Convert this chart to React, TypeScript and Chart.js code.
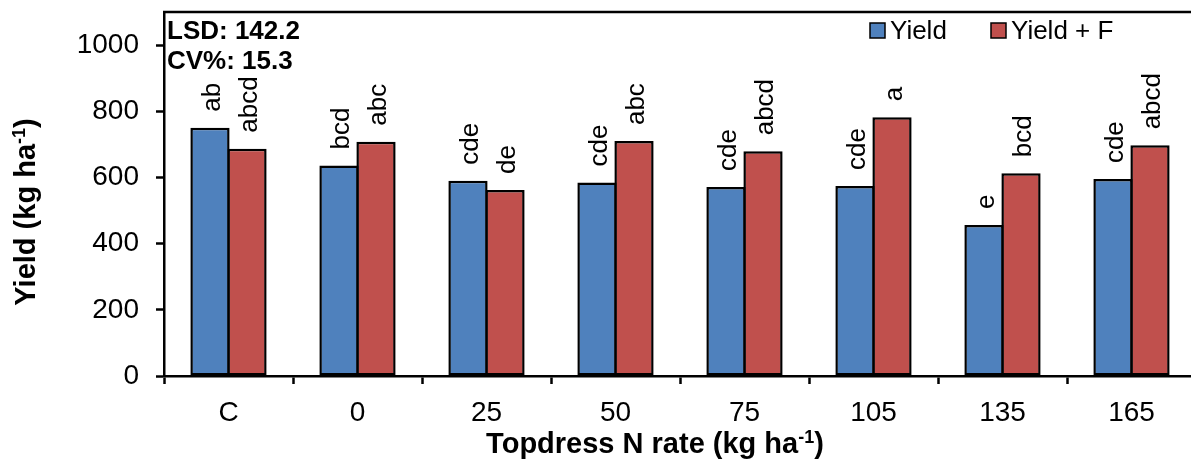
import React, { useEffect, useRef } from "react";
import { Chart, registerables } from "chart.js";

Chart.register(...registerables);

const categories = ["C", "0", "25", "50", "75", "105", "135", "165"];
const yieldValues = [750, 636, 590, 585, 571, 574, 456, 595];
const yieldFValues = [687, 708, 562, 710, 679, 782, 613, 697];
const yieldLetters = ["ab", "bcd", "cde", "cde", "cde", "cde", "e", "cde"];
const yieldFLetters = ["abcd", "abc", "de", "abc", "abcd", "a", "bcd", "abcd"];
const seriesNames = ["Yield", "Yield + F"];
const seriesColors = ["#4F81BD", "#C0504D"];
const statLines = ["LSD: 142.2", "CV%: 15.3"];
const yMax = 1100;
const yStep = 200;
const yTickTop = 1000;

const FONT = '"Liberation Sans", Arial, sans-serif';

function drawSuper(
  ctx: CanvasRenderingContext2D,
  main: string,
  sup: string,
  tail: string,
  cx: number,
  y: number,
  size: number
) {
  ctx.font = `bold ${size}px ${FONT}`;
  const w1 = ctx.measureText(main).width;
  const w3 = ctx.measureText(tail).width;
  const supSize = Math.round(size * 0.62);
  ctx.font = `bold ${supSize}px ${FONT}`;
  const w2 = ctx.measureText(sup).width;
  const total = w1 + w2 + w3;
  let x = cx - total / 2;
  ctx.textAlign = "left";
  ctx.textBaseline = "alphabetic";
  ctx.font = `bold ${size}px ${FONT}`;
  ctx.fillText(main, x, y);
  x += w1;
  ctx.font = `bold ${supSize}px ${FONT}`;
  ctx.fillText(sup, x, y - size * 0.36);
  x += w2;
  ctx.font = `bold ${size}px ${FONT}`;
  ctx.fillText(tail, x, y);
}

const decorPlugin = {
  id: "decor",
  afterDraw(chart: any) {
    const ctx: CanvasRenderingContext2D = chart.ctx;
    const area = chart.chartArea;
    ctx.save();
    ctx.fillStyle = "#000";
    ctx.strokeStyle = "#000";

    // top border of plot area
    ctx.lineWidth = 2.5;
    ctx.beginPath();
    ctx.moveTo(area.left - 1, area.top);
    ctx.lineTo(area.right + 10, area.top);
    ctx.stroke();

    // letters above bars
    const letterSets = [yieldLetters, yieldFLetters];
    ctx.font = `26px ${FONT}`;
    ctx.textAlign = "left";
    ctx.textBaseline = "alphabetic";
    for (let d = 0; d < 2; d++) {
      const meta = chart.getDatasetMeta(d);
      meta.data.forEach((el: any, i: number) => {
        ctx.save();
        ctx.translate(el.x + 10, el.y - 16);
        ctx.rotate(-Math.PI / 2);
        ctx.fillText(letterSets[d][i], 0, 0);
        ctx.restore();
      });
    }

    // stats text
    ctx.font = `bold 26px ${FONT}`;
    ctx.fillText(statLines[0], 167, 39);
    ctx.fillText(statLines[1], 167, 69);

    // legend
    const legendX = [870, 991];
    ctx.font = `26px ${FONT}`;
    for (let d = 0; d < 2; d++) {
      ctx.fillStyle = seriesColors[d];
      ctx.fillRect(legendX[d], 23, 15, 15);
      ctx.lineWidth = 1.5;
      ctx.strokeStyle = "#000";
      ctx.strokeRect(legendX[d], 23, 15, 15);
      ctx.fillStyle = "#000";
      ctx.fillText(seriesNames[d], legendX[d] + 20, 39);
    }

    // axis titles
    drawSuper(ctx, "Topdress N rate (kg ha", "-1", ")", 655, 453, 29);
    ctx.save();
    ctx.translate(35, 212);
    ctx.rotate(-Math.PI / 2);
    drawSuper(ctx, "Yield (kg ha", "-1", ")", 0, 0, 29);
    ctx.restore();

    ctx.restore();
  },
};

export default function App() {
  const ref = useRef<HTMLCanvasElement>(null);

  useEffect(() => {
    const canvas = ref.current!;
    const chart = new Chart(canvas, {
      type: "bar",
      data: {
        labels: categories,
        datasets: [
          {
            label: seriesNames[0],
            data: yieldValues,
            backgroundColor: seriesColors[0],
            borderColor: "#000",
            borderWidth: 2.5,
            borderSkipped: false,
            categoryPercentage: 0.574,
            barPercentage: 1.06,
          },
          {
            label: seriesNames[1],
            data: yieldFValues,
            backgroundColor: seriesColors[1],
            borderColor: "#000",
            borderWidth: 2.5,
            borderSkipped: false,
            categoryPercentage: 0.574,
            barPercentage: 1.06,
          },
        ],
      },
      options: {
        responsive: false,
        animation: false,
        devicePixelRatio: 1,
        layout: { padding: { top: 12, right: 4, left: 0, bottom: 0 } },
        plugins: {
          legend: { display: false },
          tooltip: { enabled: false },
          title: { display: false },
        },
        scales: {
          x: {
            grid: {
              display: true,
              drawOnChartArea: false,
              drawTicks: true,
              tickLength: 8,
              tickColor: "#000",
              tickWidth: 2.5,
              offset: true,
            },
            border: { display: true, color: "#000", width: 2.5 },
            ticks: {
              color: "#000",
              font: { family: FONT, size: 28 },
              padding: 12,
              maxRotation: 0,
              autoSkip: false,
            },
            afterFit: (scale: any) => {
              scale.height = 84;
              scale.paddingLeft = 0;
              scale.paddingRight = 0;
            },
          },
          y: {
            min: 0,
            max: yMax,
            grid: {
              display: true,
              drawOnChartArea: false,
              drawTicks: true,
              tickLength: 8,
              tickColor: "#000",
              tickWidth: 2.5,
            },
            border: { display: true, color: "#000", width: 2.5 },
            ticks: {
              stepSize: yStep,
              color: "#000",
              font: { family: FONT, size: 28 },
              padding: 17,
              callback: (v: any) => String(v),
            },
            afterBuildTicks: (scale: any) => {
              scale.ticks = scale.ticks.filter((t: any) => t.value <= yTickTop);
            },
            afterFit: (scale: any) => {
              scale.width = 164;
              scale.paddingTop = 0;
              scale.paddingBottom = 0;
            },
          },
        },
      },
      plugins: [decorPlugin],
    });
    return () => chart.destroy();
  }, []);

  return (
    <div
      style={{
        position: "fixed",
        left: 0,
        top: 0,
        width: 1191,
        height: 460,
        overflow: "hidden",
        background: "#fff",
      }}
    >
      <canvas ref={ref} width={1200} height={460} style={{ display: "block", width: 1200, height: 460 }} />
    </div>
  );
}
